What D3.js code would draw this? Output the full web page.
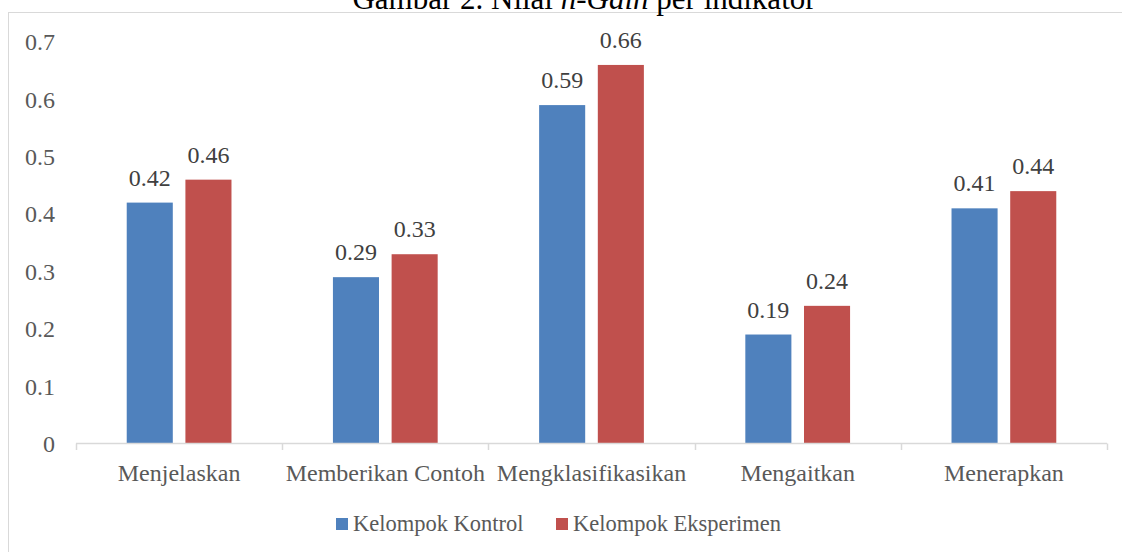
<!DOCTYPE html>
<html>
<head>
<meta charset="utf-8">
<script src="https://cdn.jsdelivr.net/npm/d3@7"></script>
<style>
  html, body { margin: 0; padding: 0; background: #ffffff; }
  svg { display: block; }
</style>
</head>
<body>
<svg id="chart" width="1122" height="552"></svg>
<script>
// Indicator categories and n-Gain values for each group
const categories = ["Menjelaskan", "Memberikan Contoh", "Mengklasifikasikan", "Mengaitkan", "Menerapkan"];
const seriesNames = ["Kelompok Kontrol", "Kelompok Eksperimen"];
const kontrol = [0.42, 0.29, 0.59, 0.19, 0.41];
const eksperimen = [0.46, 0.33, 0.66, 0.24, 0.44];
const yTicks = [0, 0.1, 0.2, 0.3, 0.4, 0.5, 0.6, 0.7];
const colors = ["#4f81bd", "#c0504d"];

const seriesValues = [kontrol, eksperimen];
const rows = categories.map((c, i) => ({
  category: c,
  values: seriesNames.map((s, j) => ({ series: s, value: seriesValues[j][i], idx: j }))
}));

const svg = d3.select("#chart");
const font = "'Liberation Serif', 'Times New Roman', serif";

// Outer chart frame
svg.append("rect")
  .attr("x", 8.5).attr("y", 12.5)
  .attr("width", 1140).attr("height", 560)
  .attr("fill", "#ffffff")
  .attr("stroke", "#d9d9d9").attr("stroke-width", 1);

// Title (sits just above the frame)
const title = svg.append("text")
  .attr("x", 584).attr("y", 9)
  .attr("text-anchor", "middle")
  .attr("font-family", font)
  .attr("font-size", 31)
  .attr("fill", "#000000");
title.append("tspan").text("Gambar 2. Nilai ");
title.append("tspan").attr("font-style", "italic").text("n-Gain");
title.append("tspan").text(" per indikator");

const x0 = d3.scaleBand().domain(categories).range([76, 1107]).padding(0);
const x1 = d3.scaleBand().domain(seriesNames)
  .range([x0.bandwidth() * 0.246, x0.bandwidth() * 0.754])
  .paddingInner(0.215).paddingOuter(0);
const y = d3.scaleLinear().domain([0, 0.7]).range([443.5, 42]);

// Y tick labels (no axis line)
const yAxis = d3.axisLeft(y).tickValues(yTicks).tickSize(0).tickPadding(0)
  .tickFormat(d => d === 0 ? "0" : d3.format(".1f")(d));
const gy = svg.append("g").attr("transform", "translate(55,0)").call(yAxis);
gy.select(".domain").remove();
gy.selectAll("text")
  .attr("font-family", font).attr("font-size", 24)
  .attr("fill", "#595959").attr("dy", "0.33em");

// Bars
const groups = svg.append("g").selectAll("g")
  .data(rows).join("g")
  .attr("transform", d => `translate(${x0(d.category)},0)`);

groups.selectAll("rect")
  .data(d => d.values).join("rect")
  .attr("x", d => x1(d.series))
  .attr("y", d => y(d.value))
  .attr("width", x1.bandwidth())
  .attr("height", d => y(0) - y(d.value))
  .attr("fill", d => colors[d.idx]);

// Value labels
groups.selectAll("text.val")
  .data(d => d.values).join("text")
  .attr("class", "val")
  .attr("x", d => x1(d.series) + x1.bandwidth() / 2)
  .attr("y", d => y(d.value) - 17)
  .attr("text-anchor", "middle")
  .attr("font-family", font).attr("font-size", 24)
  .attr("fill", "#404040")
  .text(d => d3.format(".2f")(d.value));

// Category axis with tick marks at band boundaries
const xAxisG = svg.append("g");
xAxisG.append("line")
  .attr("x1", 76).attr("x2", 1107)
  .attr("y1", 443.5).attr("y2", 443.5)
  .attr("stroke", "#d9d9d9").attr("stroke-width", 1.5);
const bounds = categories.map(c => x0(c)).concat([x0.range()[1]]);
xAxisG.selectAll("line.tick")
  .data(bounds).join("line")
  .attr("class", "tick")
  .attr("x1", d => Math.round(d) + 0.5).attr("x2", d => Math.round(d) + 0.5)
  .attr("y1", 443.5).attr("y2", 450)
  .attr("stroke", "#d9d9d9").attr("stroke-width", 1.5);
xAxisG.selectAll("text")
  .data(categories).join("text")
  .attr("x", d => x0(d) + x0.bandwidth() / 2)
  .attr("y", 481)
  .attr("text-anchor", "middle")
  .attr("font-family", font).attr("font-size", 24)
  .attr("fill", "#595959")
  .text(d => d);

// Legend
const legendItems = [
  { name: seriesNames[0], color: colors[0], x: 336 },
  { name: seriesNames[1], color: colors[1], x: 556 }
];
const lg = svg.append("g").selectAll("g").data(legendItems).join("g")
  .attr("transform", d => `translate(${d.x},518)`);
lg.append("rect").attr("width", 12).attr("height", 12).attr("fill", d => d.color);
lg.append("text")
  .attr("x", 17).attr("y", 13)
  .attr("font-family", font).attr("font-size", 22.5)
  .attr("fill", "#595959")
  .text(d => d.name);
</script>
</body>
</html>
